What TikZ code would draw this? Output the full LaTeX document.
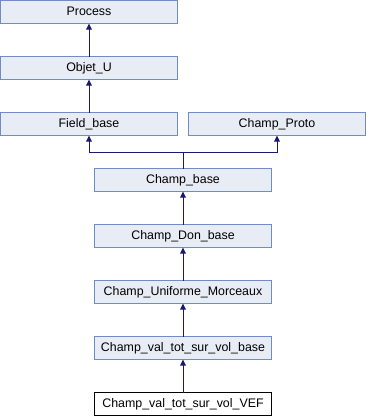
\documentclass[tikz,border=0pt]{standalone}
\usepackage{fontspec}
\setmainfont{Liberation Sans}
\usetikzlibrary{arrows.meta}
\definecolor{boxfill}{RGB}{232,236,245}
\definecolor{boxline}{RGB}{112,140,200}
\definecolor{edgeblue}{RGB}{25,25,112}
\begin{document}
\begin{tikzpicture}[x=1pt,y=-1pt,
  cls/.style={draw=boxline, fill=boxfill, line width=1pt, minimum width=177pt,
    minimum height=23pt, inner sep=0pt, outer sep=0pt,
    text height=9pt, text depth=3pt, font=\fontsize{12.4}{14}\selectfont},
  current/.style={cls, draw=black, fill=white},
  inherit/.style={draw=edgeblue, line width=1pt,
    -{Triangle[length=6pt,width=5.5pt]}}]
  \useasboundingbox (0,0) rectangle (366,416);
  \node[cls] (process) at (89,12) {Process};
  \node[cls] (objet) at (89,68) {Objet\_U};
  \node[cls] (field) at (89,124) {Field\_base};
  \node[cls] (proto) at (277,124) {Champ\_Proto};
  \node[cls] (champ) at (183,180) {Champ\_base};
  \node[cls] (don) at (183,236) {Champ\_Don\_base};
  \node[cls] (unif) at (183,292) {Champ\_Uniforme\_Morceaux};
  \node[cls] (valbase) at (183,348) {Champ\_val\_tot\_sur\_vol\_base};
  \node[current] (vef) at (183,404) {Champ\_val\_tot\_sur\_vol\_VEF};
  % inheritance links
  \draw[inherit] (objet) -- (process);
  \draw[inherit] (field) -- (objet);
  \coordinate (split) at (183,152);
  \draw[inherit] (champ.north) -- (split) -| (field.south);
  \draw[inherit] (champ.north) -- (split) -| (proto.south);
  \draw[inherit] (don) -- (champ);
  \draw[inherit] (unif) -- (don);
  \draw[inherit] (valbase) -- (unif);
  \draw[inherit] (vef) -- (valbase);
\end{tikzpicture}
\end{document}
